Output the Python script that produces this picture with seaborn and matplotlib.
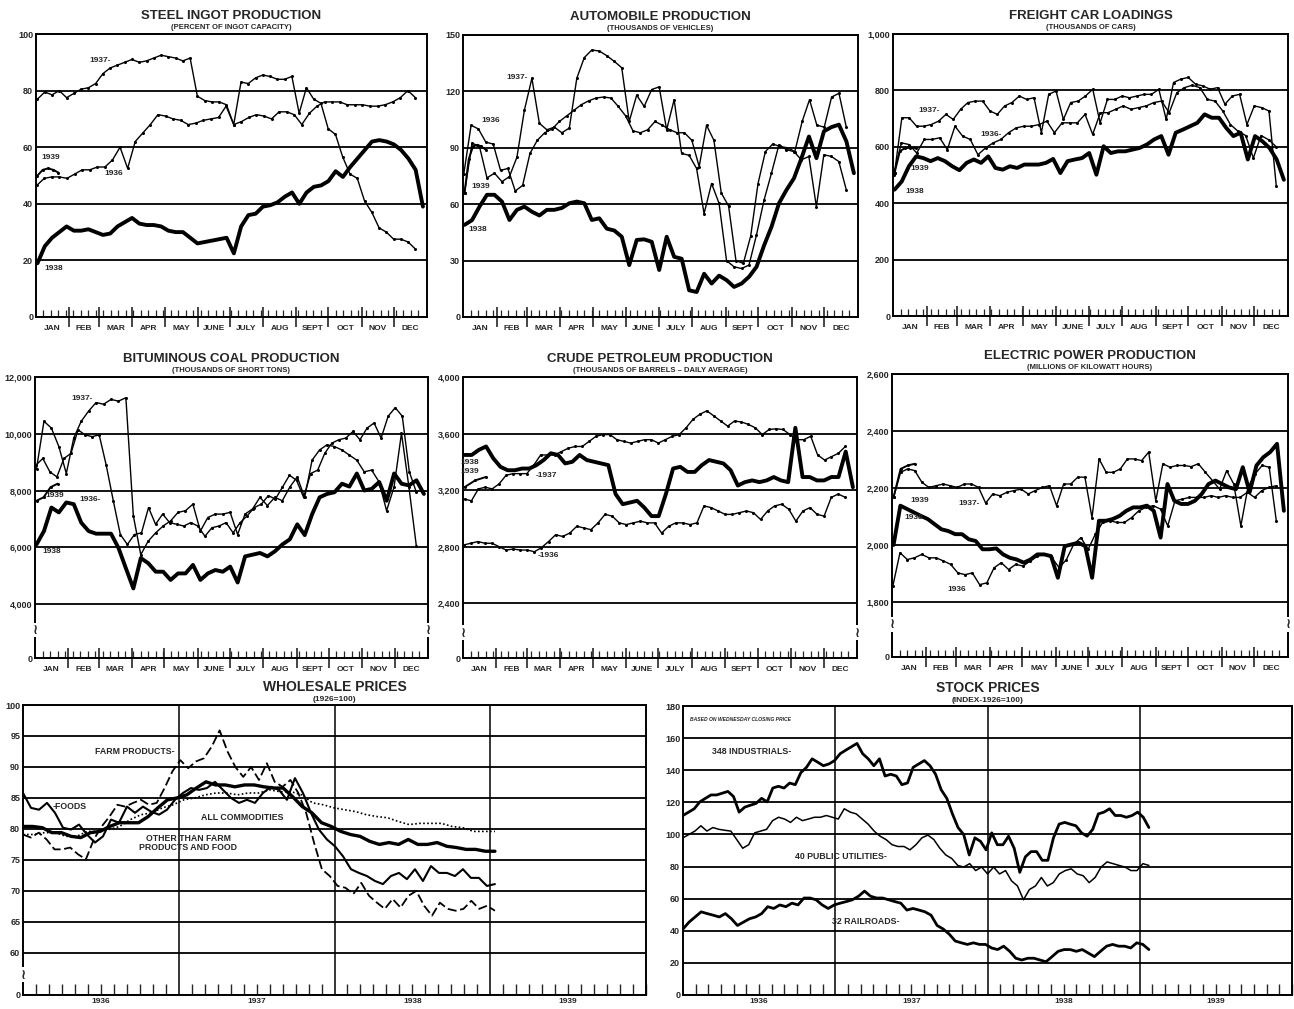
import numpy as np
import matplotlib
matplotlib.use("Agg")
import matplotlib.pyplot as plt
import matplotlib.transforms as mtransforms
import seaborn as sns

# ---------------- weekly series ----------------
steel_1938 = [19, 25, 28, 30, 32, 30.5, 30.5, 31, 30, 29, 29.5, 32, 33.5, 35, 33, 32.5, 32.5, 32, 30.5, 30,
              30, 28, 26, 26.5, 27, 27.5, 28, 22.5, 32, 36, 36.5, 39, 39.5, 40.5, 42.5, 44, 40, 44, 46, 46.5,
              48, 51.5, 49.5, 53, 56, 59, 62, 62.5, 62, 61, 59, 56, 52, 39]
steel_1937 = [77, 79.5, 78.5, 80, 77.5, 79, 80.5, 81, 82.5, 86, 88, 89, 90, 91, 90, 90.5, 91.5, 92.5, 92, 91.5,
              90.5, 91.5, 78, 76.5, 76, 76, 75, 68, 83, 82.5, 84.5, 85.5, 85, 84, 84, 85, 72, 81, 77, 75.5,
              66.5, 64.5, 56.5, 50.5, 49, 41, 37, 31.5, 30, 27.5, 27.5, 26.5, 24]
steel_1936 = [46.5, 49, 49.5, 49.5, 49, 50.5, 52, 52, 53, 53, 55.5, 60, 52.5, 62, 65, 68, 71.5, 71, 70, 69.5,
              68, 68.5, 69.5, 70, 70.5, 74.5, 68, 69, 70.5, 71.5, 71, 70, 72.5, 72.5, 71.5, 68, 72, 74.5, 76, 76,
              76, 75, 75, 75, 74.5, 74.5, 75, 76, 77.5, 80, 77.5]
steel_1939 = [50, 52, 52.5, 52, 51]

auto_1938 = [49, 51.5, 58.7, 65, 65, 61.4, 51.6, 57, 58.7, 56, 54, 57, 57, 58, 60.5, 61.4, 60.5, 51.6, 52.5, 47,
             46, 42.7, 27.6, 41, 41.3, 40, 25, 42.7, 32, 31, 14.2, 13.3, 23, 17.8, 22, 19.6, 16, 17.8, 21.4, 26.7,
             38, 48, 60.5, 67.6, 73.8, 84.5, 96, 84.5, 98.8, 101, 102.3, 93.4, 76.5]
auto_1937 = [66, 92.5, 90.7, 74, 76.5, 72, 74.7, 85, 110, 127, 103, 99.6, 101, 98, 100.5, 127, 138, 142, 141.5,
             139, 136, 132.6, 104, 118, 112, 121, 122.4, 99.6, 115.6, 87, 86, 79, 55, 71, 60.5, 30, 26.7, 25.8,
             27.6, 43.6, 62, 76.5, 91.6, 89, 88, 83.6, 85.4, 58.7, 86.3, 85.4, 82.7, 67.6]
auto_1936 = [76, 102, 100, 93, 92, 78, 79, 67, 70, 87, 94, 98, 100, 104, 107, 110, 113, 115, 116.5, 117, 116.5,
             112, 107, 99, 98, 99.6, 104, 102, 99.6, 98, 98, 94, 80, 102, 94, 66, 59, 30, 28.5, 43, 71, 88, 92,
             90.7, 90, 88, 104, 115.6, 102, 101, 117, 119, 101]
auto_1939 = [66, 84, 90.7, 91.6, 90.7, 89]

freight_1938 = [448, 477, 531, 566, 560, 549, 560, 549, 531, 517, 543, 555, 543, 566, 525, 519, 531, 525, 537, 537,
                537, 543, 557, 507, 549, 555, 560, 578, 501, 602, 578, 584, 584, 590, 596, 608, 626, 638, 572, 650,
                661, 673, 685, 715, 703, 703, 667, 638, 650, 555, 638, 620, 596, 555, 483]
freight_1937 = [507, 703, 703, 673, 673, 679, 691, 715, 697, 733, 757, 762, 762, 727, 715, 745, 757, 780, 768, 774,
                650, 786, 798, 697, 757, 762, 780, 804, 685, 768, 768, 780, 774, 780, 786, 786, 804, 697, 828, 840,
                846, 822, 816, 804, 810, 751, 780, 786, 679, 745, 739, 727, 460]
freight_1936 = [501, 614, 608, 578, 626, 626, 632, 590, 673, 638, 626, 572, 596, 614, 626, 650, 667, 673, 673, 679,
                691, 650, 685, 685, 685, 715, 644, 721, 721, 733, 745, 733, 739, 745, 757, 762, 721, 792, 810, 818,
                810, 768, 762, 727, 679, 655, 640, 560, 640, 625, 600]
freight_1939 = [507, 584, 596, 596, 596]

coal_1938 = [6100, 6570, 7400, 7230, 7580, 7520, 6870, 6570, 6480, 6480, 6480, 5980, 5260, 4550, 5620, 5440, 5140,
             5140, 4850, 5080, 5080, 5380, 4850, 5080, 5200, 5140, 5320, 4760, 5680, 5740, 5800, 5680, 5860, 6100,
             6280, 6810, 6430, 7170, 7760, 7880, 7940, 8240, 8140, 8600, 8000, 8060, 8300, 7640, 8600, 8240, 8180,
             8360, 7880]
coal_1937 = [8770, 10440, 10200, 9550, 8600, 9850, 10440, 10800, 11100, 11040, 11210, 11150, 11270, 7110, 5740,
             6220, 6510, 6750, 6930, 7230, 7290, 7520, 6570, 7050, 7170, 7170, 7230, 6450, 7170, 7350, 7760, 7470,
             7760, 7640, 8120, 8480, 7760, 9070, 9430, 9610, 9550, 9430, 9250, 9070, 8660, 8720, 8300, 7290, 8120,
             10020, 8120, 6040]
coal_1936 = [8890, 9130, 8660, 8480, 9130, 9310, 10140, 9960, 9900, 9960, 8890, 7640, 6450, 6100, 6450, 6510, 7400,
             6810, 7170, 6870, 6810, 6750, 6870, 6750, 6390, 6690, 6750, 6870, 6510, 6870, 7110, 7400, 7520, 7820,
             7700, 8120, 8540, 8360, 7760, 8600, 8720, 9310, 9670, 9790, 9850, 10080, 9790, 10200, 10380, 9850,
             10620, 10920, 10620, 8660, 7940]
coal_1939 = [7640, 7760, 8120, 8240]

oil_1938 = [3449, 3449, 3485, 3509, 3425, 3365, 3341, 3341, 3353, 3353, 3377, 3413, 3461, 3449, 3389, 3401, 3449,
            3413, 3401, 3389, 3377, 3173, 3101, 3113, 3125, 3077, 3017, 3017, 3173, 3353, 3365, 3329, 3329, 3377,
            3413, 3401, 3389, 3341, 3233, 3257, 3269, 3257, 3269, 3293, 3269, 3257, 3641, 3293, 3293, 3269, 3269,
            3293, 3293, 3473, 3221]
oil_1937 = [3137, 3125, 3209, 3221, 3209, 3245, 3305, 3317, 3317, 3317, 3377, 3449, 3449, 3449, 3473, 3497, 3509,
            3509, 3545, 3581, 3593, 3593, 3557, 3545, 3533, 3545, 3557, 3557, 3533, 3557, 3581, 3593, 3641, 3701,
            3737, 3761, 3725, 3689, 3653, 3689, 3682, 3665, 3641, 3593, 3629, 3634, 3629, 3593, 3557, 3557, 3581,
            3449, 3413, 3437, 3461, 3509]
oil_1936 = [2813, 2825, 2837, 2825, 2825, 2801, 2777, 2784, 2777, 2777, 2765, 2794, 2837, 2885, 2873, 2897, 2945,
            2933, 2921, 2969, 3029, 3017, 2969, 2957, 2969, 2981, 2969, 2969, 2897, 2945, 2969, 2969, 2957, 2969,
            3089, 3077, 3053, 3029, 3029, 3041, 3053, 3041, 2993, 3053, 3089, 3101, 3065, 2981, 3053, 3077, 3029,
            3017, 3149, 3173, 3149]
oil_1939 = [3221, 3269, 3293]

power_1938 = [2000, 2138, 2126, 2114, 2102, 2091, 2073, 2055, 2049, 2038, 2038, 2020, 2014, 1985, 1985, 1988, 1967,
              1955, 1949, 1938, 1949, 1967, 1967, 1961, 1885, 1996, 2002, 2008, 1996, 1885, 2085, 2085, 2091, 2102,
              2120, 2132, 2132, 2138, 2120, 2026, 2214, 2155, 2144, 2144, 2155, 2179, 2214, 2226, 2214, 2202, 2196,
              2273, 2185, 2279, 2308, 2326, 2355, 2120]
power_1937 = [2167, 2255, 2267, 2261, 2220, 2202, 2208, 2214, 2208, 2202, 2214, 2214, 2202, 2147, 2179, 2173, 2185,
              2191, 2196, 2179, 2191, 2202, 2208, 2138, 2214, 2214, 2238, 2238, 2096, 2302, 2255, 2255, 2267, 2302,
              2302, 2296, 2326, 2155, 2285, 2273, 2279, 2279, 2275, 2285, 2255, 2226, 2196, 2261, 2214, 2067, 2202,
              2249, 2279, 2273, 2085]
power_1936 = [1855, 1973, 1949, 1955, 1967, 1955, 1955, 1944, 1932, 1902, 1896, 1902, 1861, 1867, 1920, 1938, 1914,
              1932, 1926, 1944, 1961, 1967, 1955, 1920, 1949, 2002, 2026, 1985, 2038, 2079, 2085, 2079, 2079, 2096,
              2120, 2132, 2138, 2126, 2067, 2155, 2161, 2167, 2167, 2167, 2173, 2167, 2173, 2167, 2167, 2185, 2167,
              2191, 2202, 2208]
power_1939 = [2167, 2267, 2279, 2285]

# first / last week each series covers
span_1938 = (0.2, 51.6)
span_1937 = (0.2, 50.6)
span_1936 = (0.1, 50.6)
span_1939 = (0.2, 3.0)

# ---------------- wholesale prices 1936-1938 (1926 = 100) ----------------
wp_all = [80.4, 80.4, 80.2, 79.4, 79.4, 78.8, 78.6, 79.4, 79.6, 80.4, 81, 81, 81, 82, 83.4, 84.7, 85, 85.5, 86.6,
          87.6, 87.1, 87.1, 86.8, 87.1, 87.1, 86.8, 86.6, 86.6, 85.2, 83.6, 82.6, 81, 80.4, 79.6, 79.1, 78.8, 78,
          77.5, 77.8, 77.5, 78.3, 77.5, 77.5, 77.8, 77.2, 77, 76.7, 76.7, 76.4, 76.4]
wp_farm = [79.1, 78.6, 79.4, 78.3, 76.7, 76.7, 77, 75.9, 75.1, 78.3, 80.4, 82, 83.9, 83.6, 84.2, 84.7, 83.9, 84.2,
           86.6, 89.3, 91.1, 89.8, 90.9, 91.4, 93.3, 95.9, 92.5, 90, 88.4, 90, 87.9, 90.6, 87.6, 86.8, 87.9, 85.8,
           82.6, 77.8, 73.5, 72.4, 70.8, 70.5, 69.5, 71.3, 69.2, 68.1, 67.1, 68.7, 67.3, 69.2, 70, 67.6, 66, 68.1,
           67.1, 66.8, 67.1, 68.4, 67.1, 67.6, 66.8]
wp_food = [85.8, 83.4, 83.1, 84.2, 82.6, 80.2, 79.9, 80.7, 79.1, 77.8, 78.8, 81.5, 81, 83.6, 82.6, 83.6, 82.8, 82.3,
           83.1, 84.7, 85.8, 86.6, 86.3, 86.6, 87.6, 86.3, 85, 84.2, 84.7, 84.2, 85.8, 86.8, 86.3, 84.7, 88.2, 85.8,
           82.6, 79.9, 78.3, 77.2, 75.6, 73.5, 72.9, 72.4, 71.6, 71.1, 72.4, 72.9, 71.9, 73.5, 71.6, 74, 72.9, 72.9,
           72.4, 73.5, 72.1, 72.1, 70.8, 71.1]
wp_other = [79.1, 79.1, 79.4, 79.4, 78.8, 78.8, 79.6, 79.6, 79.9, 80.4, 81.5, 82.3, 82.6, 83.4, 83.9, 84.7, 85,
            85.5, 85.8, 85.8, 85.5, 85.8, 85.8, 86.3, 86, 86, 85.5, 84.2, 83.9, 83.4, 83.1, 82.8, 82.3, 82, 81.8,
            81.2, 80.7, 80.9, 80.9, 80.9, 80.4, 80.2, 79.6, 79.6, 79.6]
wp_span = (1936.0, 1939.03)

# ---------------- stock prices 1936-1938 (1926 = 100) ----------------
st_ind = [111.8, 113.9, 116, 120.3, 122.5, 124.6, 124.6, 125.7, 126.8, 123.6, 113.9, 117, 118.2, 119.3, 122.5,
          120.3, 128.9, 130, 128.9, 132, 131, 138.5, 141.8, 147.1, 145, 142.8, 143.9, 146, 150.3, 152.5, 154.6,
          156.7, 150.3, 147.1, 142.8, 147.1, 136.4, 137.5, 136.4, 131, 132.1, 141.8, 143.9, 146, 142.8, 137.5,
          127.8, 122.5, 112.8, 104.3, 100, 87.2, 97.9, 95.7, 90.4, 101, 93.6, 93.6, 98.9, 91.4, 76.4, 86.1, 89.3,
          89.3, 83.9, 83.9, 97.9, 106.4, 107.5, 106.4, 105.4, 101, 98.9, 103.2, 112.8, 113.9, 116, 111.8, 111.8,
          110.7, 111.8, 113.9, 110.7, 104.3]
st_util = [97.9, 100, 102.1, 105.4, 102.1, 104.3, 103.2, 102.6, 102.1, 96.8, 91.4, 93.6, 101, 102.1, 103.2, 108.6,
           110.7, 109.6, 107.5, 110.7, 108.6, 109.6, 110.7, 110.7, 111.8, 110.7, 109.6, 116, 113.9, 112.8, 109.6,
           106.4, 102.1, 98.9, 96.8, 93.6, 92.5, 92.5, 90.4, 93.6, 97.9, 99.6, 96.8, 91.4, 87.2, 85, 80.7, 79.7,
           81.8, 77.5, 79.7, 75.4, 79.7, 75.4, 77.5, 71.1, 67.9, 59.3, 65.7, 67.9, 73.2, 67.9, 70, 75.4, 77.5, 78.6,
           75.4, 74.3, 70, 73.2, 79.7, 82.9, 81.8, 80.7, 79.7, 77.5, 77.5, 81.8, 80.7]
st_rail = [41.1, 45.4, 48.6, 51.8, 50.7, 49.7, 48.6, 50.7, 47.5, 43.3, 45.4, 47.5, 48.6, 50.7, 55, 53.9, 56.1, 55,
           57.2, 56.1, 60.4, 60.4, 59.3, 56.1, 53.9, 56.1, 57.2, 58.2, 59.3, 61.5, 64.7, 61.5, 60.4, 60.4, 59.3,
           58.2, 57.2, 52.9, 53.9, 52.9, 51.8, 49.7, 43.3, 41.1, 37.9, 33.6, 32.5, 31.5, 32.5, 31.5, 31.5, 29.3,
           28.3, 30.4, 27.2, 22.9, 21.8, 22.9, 22.9, 21.8, 20.7, 23.9, 27.2, 28.3, 28.3, 27.2, 28.3, 26.1, 23.9,
           27.2, 30.4, 31.5, 30.4, 30.4, 29.3, 32.5, 31.5, 28.3]
st_span = (1936.0, 1939.06)

months = ['JAN', 'FEB', 'MAR', 'APR', 'MAY', 'JUNE', 'JULY', 'AUG', 'SEPT', 'OCT', 'NOV', 'DEC']
month_days = [31, 28, 31, 30, 31, 30, 31, 31, 30, 31, 30, 31]
years = ['1936', '1937', '1938', '1939']

sns.set_style('white')
plt.rcParams['font.family'] = ['Liberation Sans', 'DejaVu Sans']
plt.rcParams['font.weight'] = 'bold'
plt.rcParams['axes.linewidth'] = 1.4

W, H = 1294, 1009
fig = plt.figure(figsize=(W / 100, H / 100), dpi=100)


def rect(x0, y0, x1, y1):
    return [x0 / W, 1 - y1 / H, (x1 - x0) / W, (y1 - y0) / H]


def add_break(ax, yfrac, sides=(0, 1)):
    for s in sides:
        ax.text(s, yfrac, '\u2240', transform=ax.transAxes, ha='center', va='center',
                fontsize=10, family='DejaVu Sans',
                bbox=dict(fc='white', ec='none', pad=0.2), clip_on=False)


def draw(ax, x, y, lw, style='-', dots=False):
    kw = dict(marker='o', markersize=2.2, markeredgewidth=0) if dots else {}
    sns.lineplot(x=x, y=y, ax=ax, color='black', linewidth=lw, linestyle=style,
                 legend=False, **kw)


def weekly_panel(box, title, sub, series, ticks, ticklabels, ylim, labels, brk=None):
    ax = fig.add_axes(rect(*box))
    for vals, span, lw, dots in series:
        x = np.linspace(span[0], span[1], len(vals))
        draw(ax, x, vals, lw, dots=dots)
    bounds = np.cumsum([0] + month_days) / 7.0
    ax.set_xlim(0, bounds[-1])
    ax.set_ylim(*ylim)
    ax.set_yticks(ticks)
    ax.set_yticklabels(ticklabels, fontsize=6.5)
    ax.grid(axis='y', color='black', linewidth=1.3)
    ax.grid(axis='x', visible=False)
    ax.set_xticks(bounds[1:-1])
    ax.set_xticklabels([])
    ax.set_xticks(np.arange(1, 52), minor=True)
    ax.tick_params(axis='x', which='major', direction='inout', length=14, width=1.2, bottom=True)
    ax.tick_params(axis='x', which='minor', direction='in', length=5, width=0.9, bottom=True)
    ax.tick_params(axis='y', length=0, pad=2)
    trans = mtransforms.blended_transform_factory(ax.transData, ax.transAxes)
    for i, m in enumerate(months):
        ax.text((bounds[i] + bounds[i + 1]) / 2, -0.028, m, transform=trans, ha='center',
                va='top', fontsize=6)
    ax.text(0.5, 1.052, title, transform=ax.transAxes, ha='center', va='baseline', fontsize=9.5)
    ax.text(0.5, 1.017, sub, transform=ax.transAxes, ha='center', va='baseline', fontsize=5.5)
    for txt, xw, yv in labels:
        ax.text(xw, yv, txt, ha='center', va='center', fontsize=6)
    if brk is not None:
        add_break(ax, brk)
    for sp in ax.spines.values():
        sp.set_color('black')
    return ax


weekly_panel((36, 34, 427, 317), 'STEEL INGOT PRODUCTION', '(PERCENT OF INGOT CAPACITY)',
             [(steel_1936, span_1936, 1.0, True), (steel_1937, span_1937, 1.0, True),
              (steel_1938, span_1938, 2.8, False), (steel_1939, span_1939, 1.4, True)],
             [0, 20, 40, 60, 80, 100], ['0', '20', '40', '60', '80', '100'], (0, 100),
             [('1937-', 8.6, 90.5), ('1936', 10.4, 50.6), ('1939', 1.9, 56.3), ('1938', 2.3, 17)])

weekly_panel((463, 35, 858, 317), 'AUTOMOBILE PRODUCTION', '(THOUSANDS OF VEHICLES)',
             [(auto_1936, span_1936, 1.0, True), (auto_1937, span_1937, 1.0, True),
              (auto_1938, span_1938, 2.8, False), (auto_1939, span_1939, 1.4, True)],
             [0, 30, 60, 90, 120, 150], ['0', '30', '60', '90', '120', '150'], (0, 150),
             [('1937-', 7.1, 127.6), ('1936', 3.7, 104.6), ('1939', 2.4, 69.4), ('1938', 2.0, 46.3)])

weekly_panel((893, 34, 1288, 316), 'FREIGHT CAR LOADINGS', '(THOUSANDS OF CARS)',
             [(freight_1936, span_1936, 1.0, True), (freight_1937, span_1937, 1.0, True),
              (freight_1938, span_1938, 2.8, False), (freight_1939, span_1939, 1.4, True)],
             [0, 200, 400, 600, 800, 1000], ['0', '200', '400', '600', '800', '1,000'], (0, 1000),
             [('1937-', 4.8, 727), ('1936-', 13, 644), ('1939', 3.5, 523), ('1938', 2.9, 440)])

weekly_panel((35, 377, 428, 658), 'BITUMINOUS COAL PRODUCTION', '(THOUSANDS OF SHORT TONS)',
             [(coal_1936, span_1936, 1.0, True), (coal_1937, span_1937, 1.0, True),
              (coal_1938, span_1938, 2.8, False), (coal_1939, span_1939, 1.4, True)],
             [2100, 4000, 6000, 8000, 10000, 12000], ['0', '4,000', '6,000', '8,000', '10,000', '12,000'],
             (2100, 12000),
             [('1937-', 6.2, 11240), ('1936-', 7.3, 7700), ('1939', 2.6, 7820), ('1938', 2.2, 5840)], brk=0.1)

weekly_panel((463, 377, 857, 658), 'CRUDE PETROLEUM PRODUCTION',
             '(THOUSANDS OF BARRELS \u2013 DAILY AVERAGE)',
             [(oil_1936, span_1936, 1.0, True), (oil_1937, span_1937, 1.0, True),
              (oil_1938, span_1938, 2.8, False), (oil_1939, span_1939, 1.4, True)],
             [2014, 2400, 2800, 3200, 3600, 4000], ['0', '2,400', '2,800', '3,200', '3,600', '4,000'],
             (2014, 4000),
             [('1938', 0.9, 3395), ('1939', 0.9, 3335), ('-1937', 11.0, 3305), ('-1936', 11.3, 2741)], brk=0.09)

weekly_panel((892, 374, 1288, 657), 'ELECTRIC POWER PRODUCTION', '(MILLIONS OF KILOWATT HOURS)',
             [(power_1936, span_1936, 1.0, True), (power_1937, span_1937, 1.0, True),
              (power_1938, span_1938, 2.8, False), (power_1939, span_1939, 1.4, True)],
             [1607, 1800, 2000, 2200, 2400, 2600], ['0', '1,800', '2,000', '2,200', '2,400', '2,600'],
             (1607, 2600),
             [('1939', 3.6, 2155), ('1938', 2.8, 2096), ('1937-', 10.2, 2147), ('1936', 8.5, 1843)], brk=0.115)


def yearly_panel(box, title, sub, series, ticks, ticklabels, ylim, labels, brk=None, note=None):
    ax = fig.add_axes(rect(*box))
    for vals, span, lw, style in series:
        x = np.linspace(span[0], span[1], len(vals))
        draw(ax, x, vals, lw, style=style)
    ax.set_xlim(1936, 1940)
    ax.set_ylim(*ylim)
    ax.set_yticks(ticks)
    ax.set_yticklabels(ticklabels, fontsize=6.5)
    ax.set_xticks([1937, 1938, 1939])
    ax.set_xticklabels([])
    ax.set_xticks(np.arange(1936 + 1 / 12, 1940, 1 / 12), minor=True)
    ax.grid(axis='y', color='black', linewidth=1.3)
    ax.grid(axis='x', which='major', color='black', linewidth=1.1)
    ax.tick_params(axis='x', which='major', length=0)
    ax.tick_params(axis='x', which='minor', direction='in', length=8, width=1.0, bottom=True)
    ax.tick_params(axis='y', length=0, pad=2)
    trans = mtransforms.blended_transform_factory(ax.transData, ax.transAxes)
    for i, yr in enumerate(years):
        ax.text(1936.5 + i, -0.012, yr, transform=trans, ha='center', va='top', fontsize=6)
    ax.text(0.5, 1.048, title, transform=ax.transAxes, ha='center', va='baseline', fontsize=10)
    ax.text(0.5, 1.013, sub, transform=ax.transAxes, ha='center', va='baseline', fontsize=6)
    for txt, xt, yv in labels:
        ax.text(xt, yv, txt, ha='center', va='center', fontsize=6.3, linespacing=1.0)
    if brk is not None:
        add_break(ax, brk, sides=(0,))
    if note:
        ax.text(0.012, 0.955, note, transform=ax.transAxes, fontsize=3.6, style='italic', va='center')
    for sp in ax.spines.values():
        sp.set_color('black')
    return ax


yearly_panel((23, 705, 646, 995), 'WHOLESALE PRICES', '(1926=100)',
             [(wp_other, wp_span, 1.2, (0, (1, 1.4))), (wp_farm, wp_span, 1.3, (0, (5, 2))),
              (wp_food, wp_span, 1.5, '-'), (wp_all, wp_span, 2.4, '-')],
             [53.2, 60, 65, 70, 75, 80, 85, 90, 95, 100],
             ['0', '60', '65', '70', '75', '80', '85', '90', '95', '100'], (53.2, 100),
             [('FARM PRODUCTS-', 1936.72, 92.5), ('-FOODS', 1936.3, 83.6),
              ('ALL COMMODITIES', 1937.41, 81.8), ('OTHER THAN FARM\nPRODUCTS AND FOOD', 1937.06, 77.8)],
             brk=0.07)

yearly_panel((683, 706, 1292, 995), 'STOCK PRICES', '(INDEX-1926=100)',
             [(st_ind, st_span, 2.0, '-'), (st_util, st_span, 1.1, '-'), (st_rail, st_span, 2.0, '-')],
             list(range(0, 181, 20)), [str(v) for v in range(0, 181, 20)], (0, 180),
             [('348 INDUSTRIALS-', 1936.45, 151.4), ('40 PUBLIC UTILITIES-', 1937.04, 86),
              ('32 RAILROADS-', 1937.2, 46)],
             note='BASED ON WEDNESDAY CLOSING PRICE')

fig.savefig('out.png', dpi=100, facecolor='white')
